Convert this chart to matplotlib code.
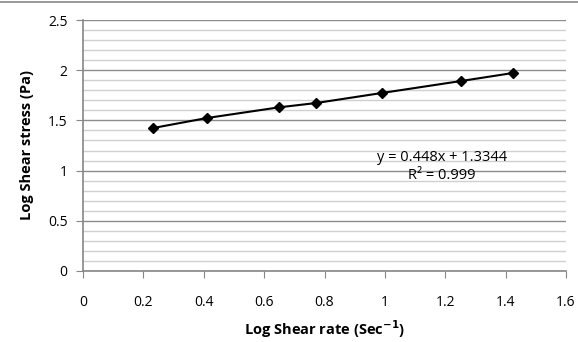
import numpy as np
import matplotlib.pyplot as plt
from matplotlib.ticker import MultipleLocator

# log shear rate vs log shear stress
log_rate = [0.232, 0.411, 0.649, 0.772, 0.990, 1.252, 1.424]
log_stress = [1.424, 1.524, 1.630, 1.673, 1.773, 1.892, 1.972]
fit_text = "y = 0.448x + 1.3344"
r2_text = "R² = 0.999"

plt.rcParams['font.family'] = ['Open Sans', 'DejaVu Sans']

fig = plt.figure(figsize=(5.78, 3.42), dpi=100)
ax = fig.add_axes([83 / 578, 71 / 342, 483 / 578, 251 / 342])

ax.plot(log_rate, log_stress, color='black', lw=1.5, marker='D', ms=5.5, zorder=3)

ax.set_xlim(0, 1.6)
ax.set_ylim(0, 2.5)
ax.yaxis.set_minor_locator(MultipleLocator(0.1))
ax.set_xticks([0, 0.2, 0.4, 0.6, 0.8, 1.0, 1.2, 1.4, 1.6])
ax.set_xticklabels(['0', '0.2', '0.4', '0.6', '0.8', '1', '1.2', '1.4', '1.6'])
ax.set_yticks([0, 0.5, 1.0, 1.5, 2.0, 2.5])
ax.set_yticklabels(['0', '0.5', '1', '1.5', '2', '2.5'])

ax.grid(which='major', axis='y', color='#8c8c8c', lw=1)
ax.grid(which='minor', axis='y', color='#d0d0d0', lw=1)
ax.set_axisbelow(True)

for s in ['top', 'right']:
    ax.spines[s].set_visible(False)
for s in ['left', 'bottom']:
    ax.spines[s].set_color('#868686')
    ax.spines[s].set_linewidth(1.2)

ax.tick_params(axis='both', which='major', color='#868686', length=5, labelsize=10, colors='black')
ax.tick_params(axis='x', which='major', pad=12, color='#868686')
ax.tick_params(axis='y', which='minor', length=0)
ax.tick_params(axis='y', pad=6)
for t in ax.get_xticklines() + ax.get_yticklines():
    t.set_color('#868686')

ax.set_xlabel("Log Shear rate (Sec$^{\\mathbf{-1}}$)", fontsize=10.5, fontweight='bold', labelpad=6)
ax.set_ylabel("Log Shear stress (Pa)", fontsize=10.5, fontweight='bold', labelpad=10)

ax.text(1.19, 1.135, fit_text, fontsize=10.5, ha='center', va='center')
ax.text(1.19, 0.955, r2_text, fontsize=10.5, ha='center', va='center')

fig.add_artist(plt.Line2D([0, 1], [1 - 1.5 / 342, 1 - 1.5 / 342], color='#888888', lw=1.2))

fig.savefig('out.png', dpi=100)
